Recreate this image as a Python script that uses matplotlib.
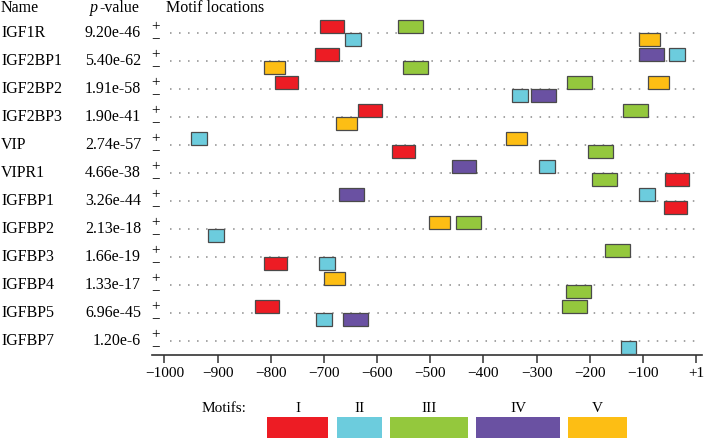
import matplotlib
matplotlib.use("Agg")
import matplotlib.pyplot as plt
import matplotlib.transforms as mtransforms
from matplotlib.patches import Rectangle

# Daten
genes = ["IGF1R", "IGF2BP1", "IGF2BP2", "IGF2BP3", "VIP", "VIPR1",
         "IGFBP1", "IGFBP2", "IGFBP3", "IGFBP4", "IGFBP5", "IGFBP7"]
pvalues = ["9.20e-46", "5.40e-62", "1.91e-58", "1.90e-41", "2.74e-57", "4.66e-38",
           "3.26e-44", "2.13e-18", "1.66e-19", "1.33e-17", "6.96e-45", "1.20e-6"]

motif_names = ["I", "II", "III", "IV", "V"]
motif_colors = ["#ED1C24", "#6CCCDD", "#94C83D", "#6A51A2", "#FDBE14"]
motif_widths = [44, 30, 47, 47, 39.5]

# (motiv, strang, start) per gen
sites = [
    [("I", "+", -707), ("II", "-", -660), ("III", "+", -560), ("V", "-", -108)],
    [("I", "+", -716), ("V", "-", -812), ("III", "-", -551), ("IV", "+", -108), ("II", "+", -51)],
    [("I", "+", -792), ("II", "-", -347), ("IV", "-", -310), ("III", "+", -242), ("V", "+", -91)],
    [("I", "+", -635), ("V", "-", -677), ("III", "+", -137)],
    [("II", "+", -950), ("V", "+", -358), ("I", "-", -572), ("III", "-", -204)],
    [("IV", "+", -460), ("II", "+", -296), ("III", "-", -196), ("I", "-", -58)],
    [("IV", "+", -672), ("II", "+", -107), ("I", "-", -61)],
    [("II", "-", -918), ("V", "+", -503), ("III", "+", -451)],
    [("I", "-", -813), ("II", "-", -710), ("III", "+", -172)],
    [("V", "+", -699), ("III", "-", -245)],
    [("I", "+", -829), ("II", "-", -715), ("IV", "-", -664), ("III", "+", -253)],
    [("II", "-", -142)],
]

tick_values = [-1000, -900, -800, -700, -600, -500, -400, -300, -200, -100, 0]
tick_labels = ["\u22121000", "\u2212900", "\u2212800", "\u2212700", "\u2212600", "\u2212500",
               "\u2212400", "\u2212300", "\u2212200", "\u2212100", "+1"]

plt.rcParams["font.family"] = ["Liberation Serif", "DejaVu Serif"]

W, H = 708, 439
fig = plt.figure(figsize=(W / 100, H / 100), dpi=100)

def fx(px):
    return px / W

def fy(py):
    return 1 - py / H

# Hauptachse: x in bp, y in Zeilen
ax = fig.add_axes([fx(152), fy(355.5), fx(702) - fx(152), fy(14) - fy(355.5)])
ax.set_xlim(-1023.5, 11.3)
ax.set_ylim(-11.482, 0.714)
for s in ["top", "left", "right"]:
    ax.spines[s].set_visible(False)
ax.spines["bottom"].set_color("#333333")
ax.spines["bottom"].set_linewidth(1.2)
ax.set_yticks([])
ax.set_xticks(tick_values)
ax.set_xticklabels(tick_labels, fontsize=11)
ax.tick_params(axis="x", direction="out", length=6, width=1.1, color="#333333", pad=2)

color_of = dict(zip(motif_names, motif_colors))
width_of = dict(zip(motif_names, motif_widths))
box_h = 0.454

blend = mtransforms.blended_transform_factory(fig.transFigure, ax.transData)

for i, gene in enumerate(genes):
    y = -i
    ax.plot([-990, 0], [y, y], color="#8a8a8a", lw=1.1, linestyle=(0, (1, 4.9)),
            zorder=1)
    fig.text(fx(1), y - 0.1, gene, fontsize=11.5, ha="left", va="baseline",
             transform=blend)
    fig.text(fx(141), y - 0.1, pvalues[i], fontsize=11.5, ha="right", va="baseline",
             transform=blend)
    fig.text(fx(155.5), y + 0.27, "+", fontsize=11, ha="center", va="center",
             transform=blend)
    fig.text(fx(155.5), y - 0.18, "\u2212", fontsize=11, ha="center", va="center",
             transform=blend)
    for motif, strand, start in sites[i]:
        y0 = y if strand == "+" else y - box_h
        ax.add_patch(Rectangle((start, y0), width_of[motif], box_h,
                               facecolor=color_of[motif], edgecolor="#4a4a4a",
                               lw=0.9, zorder=3))

# Kopfzeile
fig.text(fx(1), fy(12), "Name", fontsize=11.5, ha="left", va="baseline")
fig.text(fx(90), fy(12), "p", fontsize=11.5, style="italic", ha="left", va="baseline")
fig.text(fx(139), fy(12), "-value", fontsize=11.5, ha="right", va="baseline")
fig.text(fx(166), fy(12), "Motif locations", fontsize=11.5, ha="left", va="baseline")

# Legende
fig.text(fx(202), fy(412), "Motifs:", fontsize=11, ha="left", va="baseline")
legend_left = [267, 337, 390, 476, 568]
legend_right = [328, 382, 468, 560, 627]
for name, col, l, r in zip(motif_names, motif_colors, legend_left, legend_right):
    fig.add_artist(Rectangle((fx(l), fy(445)), fx(r) - fx(l), fy(418) - fy(445),
                             transform=fig.transFigure, facecolor=col,
                             edgecolor="none"))
    fig.text(fx((l + r) / 2), fy(412), name, fontsize=11, ha="center", va="baseline")

fig.savefig("out.png", dpi=100)
